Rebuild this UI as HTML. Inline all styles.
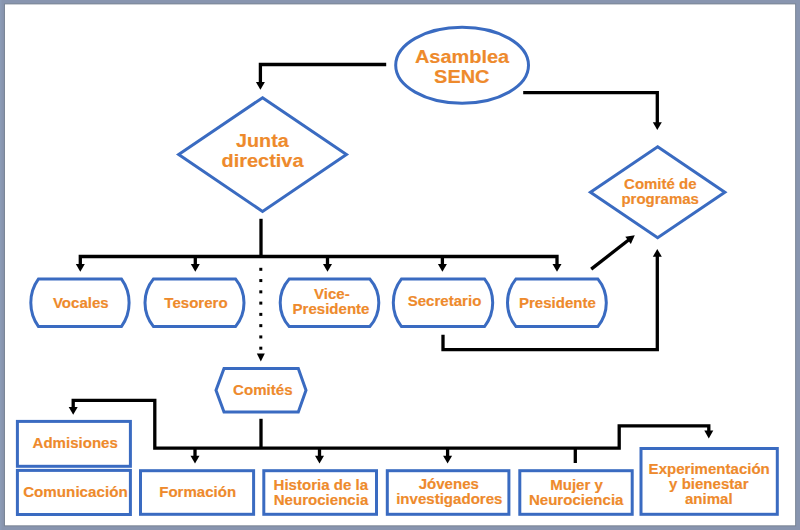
<!DOCTYPE html>
<html><head><meta charset="utf-8"><style>
html,body{margin:0;padding:0;background:#fff;}
svg{display:block;}
text{font-family:"Liberation Sans",sans-serif;font-weight:bold;fill:#EE8A2C;stroke:#EE8A2C;stroke-width:0.15px;}
</style></head><body>
<svg width="800" height="530" viewBox="0 0 800 530">
<rect x="0" y="0" width="800" height="530" fill="#8895AF"/>
<rect x="0" y="0" width="1.5" height="530" fill="#8B9BB6"/>
<rect x="3.9" y="3.4" width="792.2" height="523" fill="#7B8696"/>
<rect x="5.0" y="4.4" width="790.1" height="520.9" fill="#fff"/>
<ellipse cx="462.1" cy="65.28" rx="66.4" ry="38.0" fill="none" stroke="#3A6BC1" stroke-width="3.0"/>
<path d="M262.55,97.70000000000002 L346.45000000000005,154.55 L262.55,211.4 L178.65,154.55 Z" fill="none" stroke="#3A6BC1" stroke-width="3.0" stroke-linejoin="miter" stroke-miterlimit="10"/>
<path d="M657.65,146.8 L724.85,192.25 L657.65,237.7 L590.4499999999999,192.25 Z" fill="none" stroke="#3A6BC1" stroke-width="3.0" stroke-linejoin="miter" stroke-miterlimit="10"/>
<path d="M38.5,278.9 H121.4 A40.79,40.79 0 0 1 121.4,326.6 H38.5 A40.79,40.79 0 0 1 38.5,278.9 Z" fill="none" stroke="#3A6BC1" stroke-width="3.0"/>
<path d="M153.5,278.9 H235.5 A37.71,37.71 0 0 1 235.5,326.6 H153.5 A37.71,37.71 0 0 1 153.5,278.9 Z" fill="none" stroke="#3A6BC1" stroke-width="3.0"/>
<path d="M289.2,278.9 H369.8 A36.10,36.10 0 0 1 369.8,326.6 H289.2 A36.10,36.10 0 0 1 289.2,278.9 Z" fill="none" stroke="#3A6BC1" stroke-width="3.0"/>
<path d="M401.5,278.9 H484.5 A38.78,38.78 0 0 1 484.5,326.6 H401.5 A38.78,38.78 0 0 1 401.5,278.9 Z" fill="none" stroke="#3A6BC1" stroke-width="3.0"/>
<path d="M516.0,278.9 H597.8 A37.71,37.71 0 0 1 597.8,326.6 H516.0 A37.71,37.71 0 0 1 516.0,278.9 Z" fill="none" stroke="#3A6BC1" stroke-width="3.0"/>
<path d="M224,368.6 H298.3 L306,390.3 L298.3,412.1 H224 L216,390.3 Z" fill="none" stroke="#3A6BC1" stroke-width="3.0"/>
<rect x="17.4" y="421.4" width="113.0" height="44.900000000000034" fill="none" stroke="#3A6BC1" stroke-width="3.0"/>
<rect x="17.4" y="470.4" width="113.0" height="44.10000000000002" fill="none" stroke="#3A6BC1" stroke-width="3.0"/>
<rect x="140.5" y="470.7" width="113.1" height="43.599999999999966" fill="none" stroke="#3A6BC1" stroke-width="3.0"/>
<rect x="263.8" y="470.7" width="112.69999999999999" height="43.599999999999966" fill="none" stroke="#3A6BC1" stroke-width="3.0"/>
<rect x="387.3" y="470.7" width="121.59999999999997" height="43.599999999999966" fill="none" stroke="#3A6BC1" stroke-width="3.0"/>
<rect x="519.8" y="470.7" width="112.40000000000009" height="43.599999999999966" fill="none" stroke="#3A6BC1" stroke-width="3.0"/>
<rect x="641.0" y="448.5" width="136.29999999999995" height="65.79999999999995" fill="none" stroke="#3A6BC1" stroke-width="3.0"/>
<path d="M386.2,64.5 H260.4 V84" fill="none" stroke="#000" stroke-width="3.3" stroke-linejoin="miter" stroke-linecap="butt"/>
<path d="M260.4,89.8 L255.89999999999998,82.0 L264.9,82.0 Z" fill="#000"/>
<path d="M523.2,92.7 H657.3 V124" fill="none" stroke="#000" stroke-width="3.3" stroke-linejoin="miter" stroke-linecap="butt"/>
<path d="M657.3,130.1 L652.8,122.3 L661.8,122.3 Z" fill="#000"/>
<path d="M261.0,218.8 V256.5" fill="none" stroke="#000" stroke-width="3.3" stroke-linejoin="miter" stroke-linecap="butt"/>
<path d="M80.3,265 V256.5 H557 V265" fill="none" stroke="#000" stroke-width="3.3" stroke-linejoin="miter" stroke-linecap="butt"/>
<path d="M195.3,256.5 V265" fill="none" stroke="#000" stroke-width="3.3" stroke-linejoin="miter" stroke-linecap="butt"/>
<path d="M327.5,256.5 V265" fill="none" stroke="#000" stroke-width="3.3" stroke-linejoin="miter" stroke-linecap="butt"/>
<path d="M442.4,256.5 V265" fill="none" stroke="#000" stroke-width="3.3" stroke-linejoin="miter" stroke-linecap="butt"/>
<path d="M80.3,271.7 L75.8,263.9 L84.8,263.9 Z" fill="#000"/>
<path d="M195.3,271.7 L190.8,263.9 L199.8,263.9 Z" fill="#000"/>
<path d="M327.5,271.7 L323.0,263.9 L332.0,263.9 Z" fill="#000"/>
<path d="M442.4,271.7 L437.9,263.9 L446.9,263.9 Z" fill="#000"/>
<path d="M557,271.7 L552.5,263.9 L561.5,263.9 Z" fill="#000"/>
<rect x="259.3" y="267.8" width="3" height="3" fill="#000"/>
<rect x="259.3" y="279.07" width="3" height="3" fill="#000"/>
<rect x="259.3" y="290.34000000000003" width="3" height="3" fill="#000"/>
<rect x="259.3" y="301.61" width="3" height="3" fill="#000"/>
<rect x="259.3" y="312.88" width="3" height="3" fill="#000"/>
<rect x="259.3" y="324.15" width="3" height="3" fill="#000"/>
<rect x="259.3" y="335.42" width="3" height="3" fill="#000"/>
<rect x="259.3" y="346.69" width="3" height="3" fill="#000"/>
<path d="M260.8,361.4 L256.8,353.4 L264.8,353.4 Z" fill="#000"/>
<path d="M443,334.7 V349.6 H657.3 V255" fill="none" stroke="#000" stroke-width="3.3" stroke-linejoin="miter" stroke-linecap="butt"/>
<path d="M657.3,248.9 L652.8,256.7 L661.8,256.7 Z" fill="#000"/>
<path d="M591.2,269.1 L628.88,239.80" fill="none" stroke="#000" stroke-width="3.3" stroke-linejoin="miter" stroke-linecap="butt"/>
<path d="M634.8,235.2 L630.85,243.97 L625.33,236.86 Z" fill="#000"/>
<path d="M261,418.8 V448.2" fill="none" stroke="#000" stroke-width="3.3" stroke-linejoin="miter" stroke-linecap="butt"/>
<path d="M73.2,408 V400.4 H154.8 V448.2 H619.2 V425.8 H708.8 V432" fill="none" stroke="#000" stroke-width="3.3" stroke-linejoin="miter" stroke-linecap="butt"/>
<path d="M708.8,438.4 L704.3,430.59999999999997 L713.3,430.59999999999997 Z" fill="#000"/>
<path d="M73.2,414.8 L68.7,407.0 L77.7,407.0 Z" fill="#000"/>
<path d="M195,448.2 V457" fill="none" stroke="#000" stroke-width="3.3" stroke-linejoin="miter" stroke-linecap="butt"/>
<path d="M195,463.6 L190.5,455.8 L199.5,455.8 Z" fill="#000"/>
<path d="M319.5,448.2 V457" fill="none" stroke="#000" stroke-width="3.3" stroke-linejoin="miter" stroke-linecap="butt"/>
<path d="M319.5,463.6 L315.0,455.8 L324.0,455.8 Z" fill="#000"/>
<path d="M447.6,448.2 V457" fill="none" stroke="#000" stroke-width="3.3" stroke-linejoin="miter" stroke-linecap="butt"/>
<path d="M447.6,463.6 L443.1,455.8 L452.1,455.8 Z" fill="#000"/>
<path d="M575.3,448.2 V463" fill="none" stroke="#000" stroke-width="3.3" stroke-linejoin="miter" stroke-linecap="butt"/>
<text transform="translate(462.0,62.7) scale(1.14,1)" text-anchor="middle" font-size="17.5">Asamblea</text>
<text transform="translate(461.8,83.3) scale(1.14,1)" text-anchor="middle" font-size="17.5">SENC</text>
<text transform="translate(262.4,146.8) scale(1.13,1)" text-anchor="middle" font-size="17.5">Junta</text>
<text transform="translate(262.5,166.6) scale(1.14,1)" text-anchor="middle" font-size="17.5">directiva</text>
<text transform="translate(660.3,188.7) scale(1.08,1)" text-anchor="middle" font-size="13.9">Comité de</text>
<text transform="translate(660.2,204.0) scale(1.08,1)" text-anchor="middle" font-size="13.9">programas</text>
<text transform="translate(80.8,307.5) scale(1.062,1)" text-anchor="middle" font-size="14.2">Vocales</text>
<text transform="translate(196.0,307.6) scale(1.062,1)" text-anchor="middle" font-size="14.2">Tesorero</text>
<text transform="translate(331.8,299) scale(1.062,1)" text-anchor="middle" font-size="14.2">Vice-</text>
<text transform="translate(331,314.3) scale(1.062,1)" text-anchor="middle" font-size="14.2">Presidente</text>
<text transform="translate(444.5,306) scale(1.062,1)" text-anchor="middle" font-size="14.2">Secretario</text>
<text transform="translate(557.4,307.8) scale(1.062,1)" text-anchor="middle" font-size="14.2">Presidente</text>
<text transform="translate(262.8,395) scale(1.04,1)" text-anchor="middle" font-size="14.5">Comités</text>
<text transform="translate(75.2,448.3) scale(1.062,1)" text-anchor="middle" font-size="14.2">Admisiones</text>
<text transform="translate(75.4,497.2) scale(1.07,1)" text-anchor="middle" font-size="14.2">Comunicación</text>
<text transform="translate(197.7,496.7) scale(1.062,1)" text-anchor="middle" font-size="14.2">Formación</text>
<text transform="translate(320.8,489.5) scale(1.062,1)" text-anchor="middle" font-size="14.2">Historia de la</text>
<text transform="translate(321,504.7) scale(1.062,1)" text-anchor="middle" font-size="14.2">Neurociencia</text>
<text transform="translate(448.8,488.5) scale(1.062,1)" text-anchor="middle" font-size="14.2">Jóvenes</text>
<text transform="translate(449.3,503.5) scale(1.062,1)" text-anchor="middle" font-size="14.2">investigadores</text>
<text transform="translate(576.5,489.7) scale(1.062,1)" text-anchor="middle" font-size="14.2">Mujer y</text>
<text transform="translate(576.2,505.3) scale(1.062,1)" text-anchor="middle" font-size="14.2">Neurociencia</text>
<text transform="translate(709.2,473.9) scale(1.045,1)" text-anchor="middle" font-size="14.4">Experimentación</text>
<text transform="translate(708.8,488.9) scale(1.045,1)" text-anchor="middle" font-size="14.4">y bienestar</text>
<text transform="translate(708.8,504.0) scale(1.045,1)" text-anchor="middle" font-size="14.4">animal</text>
</svg>
</body></html>
